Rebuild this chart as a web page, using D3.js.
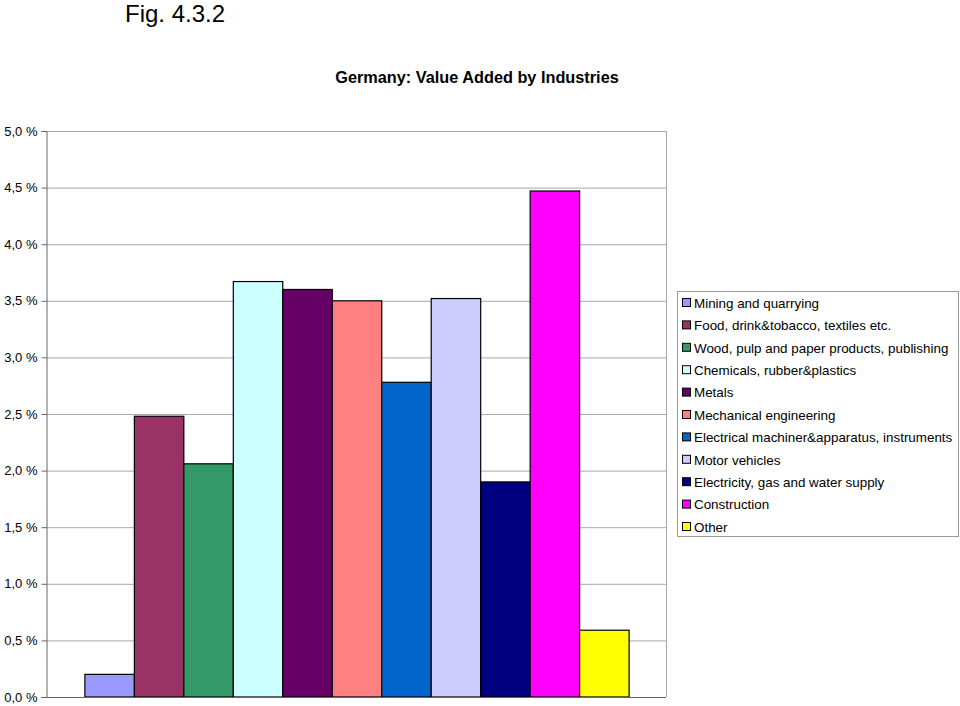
<!DOCTYPE html>
<html><head><meta charset="utf-8">
<script src="https://cdn.jsdelivr.net/npm/d3@7"></script>
<style>body{margin:0;background:#fff}svg{display:block;font-family:"Liberation Sans",Arial,sans-serif}</style>
</head><body>
<svg id="c" width="960" height="706"></svg>
<script>
const categories = ["Mining and quarrying","Food, drink&tobacco, textiles etc.","Wood, pulp and paper products, publishing","Chemicals, rubber&plastics","Metals","Mechanical engineering","Electrical machiner&apparatus, instruments","Motor vehicles","Electricity, gas and water supply","Construction","Other"];
const values = [0.20, 2.48, 2.06, 3.67, 3.60, 3.50, 2.78, 3.52, 1.90, 4.47, 0.59];
const colors = ["#9999FF","#993366","#339966","#CCFFFF","#660066","#FF8080","#0066CC","#CCCCFF","#000080","#FF00FF","#FFFF00"];
const tickValues = [0,0.5,1,1.5,2,2.5,3,3.5,4,4.5,5];

const svg = d3.select("#c");
const L=46, R=666, T=131, B=697;
const y = d3.scaleLinear().domain([0,5]).range([B,T]);
const outer = d3.scaleBand().domain(["g"]).range([L+2,R]).paddingInner(0).paddingOuter(0.0678);
const x = d3.scaleBand().domain(categories).range([outer("g"), outer("g")+outer.bandwidth()]).padding(0);

svg.append("text").attr("x",175).attr("y",22).attr("text-anchor","middle").attr("font-size",24).text("Fig. 4.3.2");
svg.append("text").attr("x",477).attr("y",83).attr("text-anchor","middle").attr("font-size",16.3).attr("font-weight","bold").text("Germany: Value Added by Industries");

// gridlines
svg.append("g").selectAll("line").data(tickValues.filter(d=>d>0)).join("line")
  .attr("x1",L).attr("x2",R).attr("y1",d=>y(d)+0.5).attr("y2",d=>y(d)+0.5)
  .attr("stroke","#a8a8a8").attr("stroke-width",1);
svg.append("line").attr("x1",R+0.5).attr("x2",R+0.5).attr("y1",T).attr("y2",B).attr("stroke","#a8a8a8");

// bars
svg.append("g").selectAll("rect").data(values).join("rect")
  .attr("x",(d,i)=>x(categories[i])).attr("width",x.bandwidth())
  .attr("y",d=>y(d)).attr("height",d=>B-y(d))
  .attr("fill",(d,i)=>colors[i]).attr("stroke","#000").attr("stroke-width",1.2);

// y axis
const yAxis = d3.axisLeft(y).tickValues(tickValues).tickSize(5).tickPadding(4)
  .tickFormat(d=>d3.format(".1f")(d).replace(".",",")+" %");
const ga = svg.append("g").attr("transform",`translate(${L+0.5},0)`).call(yAxis);
ga.attr("font-size",13).attr("font-family","Liberation Sans, Arial, sans-serif");
ga.selectAll("text").attr("fill","#000");
ga.select(".domain").attr("stroke","#666");
ga.selectAll(".tick line").attr("stroke","#666");
svg.append("line").attr("x1",L).attr("x2",R).attr("y1",B+0.5).attr("y2",B+0.5).attr("stroke","#666");

// legend
const lg = svg.append("g");
lg.append("rect").attr("x",677.5).attr("y",291.5).attr("width",281).attr("height",245).attr("fill","#fff").attr("stroke","#999");
const items = lg.selectAll("g").data(categories).join("g")
  .attr("transform",(d,i)=>`translate(682,${303+i*22.4})`);
items.append("rect").attr("x",0.5).attr("y",-4.5).attr("width",8).attr("height",8)
  .attr("fill",(d,i)=>colors[i]).attr("stroke","#000");
items.append("text").attr("x",12).attr("y",4.8).attr("font-size",13.4).text(d=>d);
</script>
</body></html>
